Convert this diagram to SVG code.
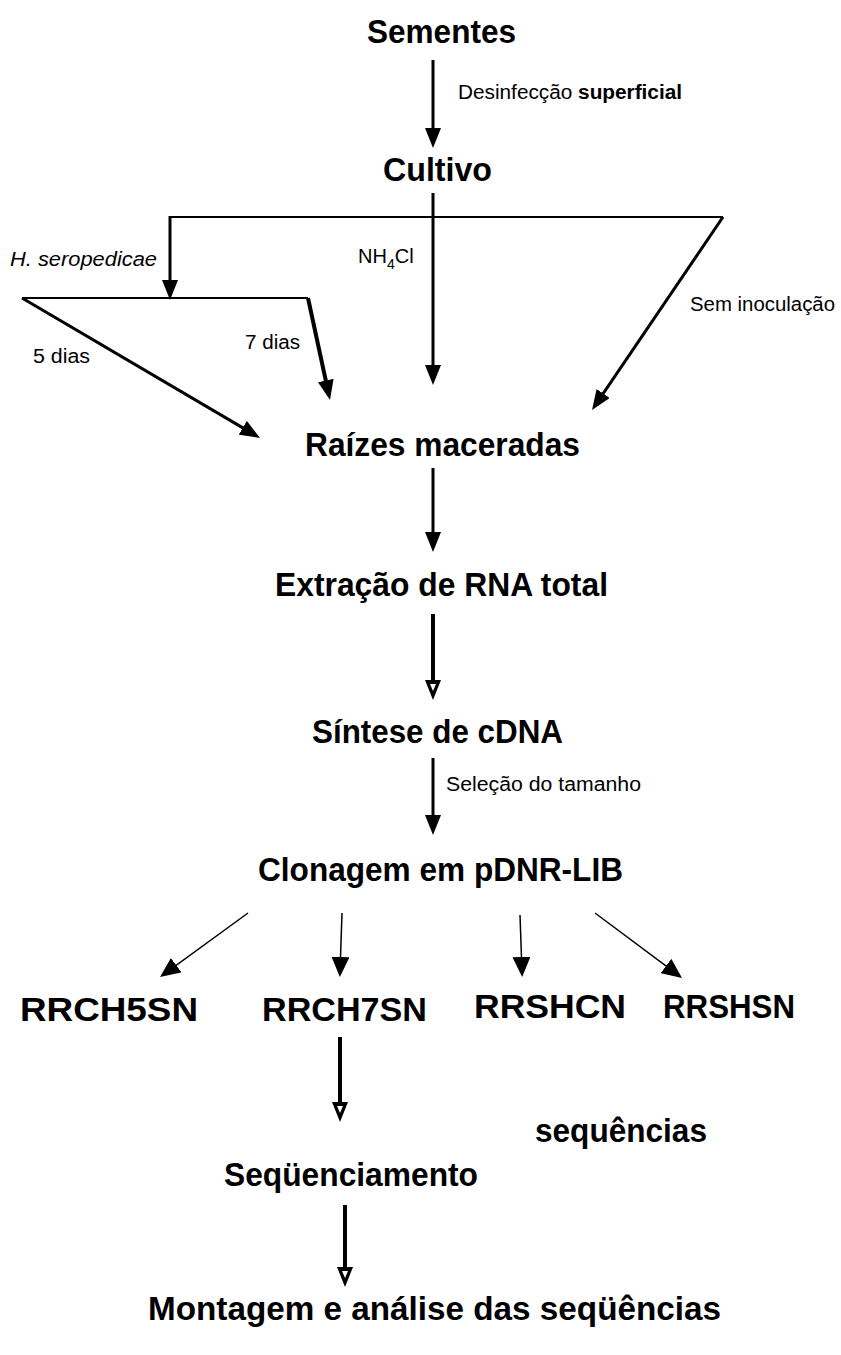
<svg xmlns="http://www.w3.org/2000/svg" width="841" height="1355" viewBox="0 0 841 1355">
<style>
.t{font-family:"Liberation Sans",Arial,sans-serif;font-weight:bold;font-size:33px;fill:#000}
.s{font-family:"Liberation Sans",Arial,sans-serif;font-size:20px;fill:#000}
.ln{stroke:#000;fill:none}
</style>
<defs>
<marker id="ah" markerUnits="userSpaceOnUse" markerWidth="22" markerHeight="16" refX="12" refY="8" orient="auto"><path d="M0,0 L20,8 L0,16 z" fill="#000"/></marker>
<marker id="ahs" markerUnits="userSpaceOnUse" markerWidth="22" markerHeight="18" refX="12" refY="9" orient="auto"><path d="M0,0 L20,9 L0,18 z" fill="#000"/></marker>
<marker id="aho" markerUnits="userSpaceOnUse" markerWidth="22" markerHeight="16" refX="12" refY="8" orient="auto"><path d="M0,0 L20,8 L0,16 z" fill="#000"/><path d="M4,5 L11,8 L4,11 z" fill="#fff"/></marker>
</defs>
<rect width="841" height="1355" fill="#fff"/>
<g id="connectors">
<line class="ln" x1="433" y1="60" x2="433" y2="140" stroke-width="3" marker-end="url(#ah)"/>
<line class="ln" x1="433" y1="193" x2="433" y2="377" stroke-width="3" marker-end="url(#ah)"/>
<line class="ln" x1="170" y1="217" x2="723" y2="217" stroke-width="2"/>
<line class="ln" x1="170" y1="216" x2="170" y2="292" stroke-width="3" marker-end="url(#ah)"/>
<line class="ln" x1="723" y1="217" x2="596.5" y2="403.4" stroke-width="3" marker-end="url(#ah)"/>
<line class="ln" x1="22" y1="298" x2="308" y2="298" stroke-width="2"/>
<line class="ln" x1="22" y1="298" x2="253.1" y2="433.9" stroke-width="3" marker-end="url(#ah)"/>
<line class="ln" x1="308" y1="298" x2="328.3" y2="392.2" stroke-width="4" marker-end="url(#ah)"/>
<line class="ln" x1="433" y1="468" x2="433" y2="544" stroke-width="3" marker-end="url(#ah)"/>
<line class="ln" x1="433" y1="614" x2="433" y2="692" stroke-width="4" marker-end="url(#aho)"/>
<line class="ln" x1="433" y1="758" x2="433" y2="827" stroke-width="3" marker-end="url(#ah)"/>
<line class="ln" x1="248" y1="913" x2="166.5" y2="972.3" stroke-width="1.5" marker-end="url(#ahs)"/>
<line class="ln" x1="342" y1="913" x2="340.1" y2="969" stroke-width="1.5" marker-end="url(#ahs)"/>
<line class="ln" x1="520" y1="915" x2="521.9" y2="969" stroke-width="1.5" marker-end="url(#ahs)"/>
<line class="ln" x1="595" y1="913" x2="675.6" y2="973.2" stroke-width="1.5" marker-end="url(#ahs)"/>
<line class="ln" x1="340" y1="1037" x2="340" y2="1114" stroke-width="4" marker-end="url(#aho)"/>
<line class="ln" x1="345" y1="1205" x2="345" y2="1279" stroke-width="4" marker-end="url(#aho)"/>
</g>
<g id="n-sementes"><text class="t" x="367" y="43" textLength="149" lengthAdjust="spacingAndGlyphs">Sementes</text></g>
<g id="l-desinf"><text class="s" x="458" y="99" textLength="224" lengthAdjust="spacingAndGlyphs">Desinfecção  <tspan font-weight="bold">superficial</tspan></text></g>
<g id="n-cultivo"><text class="t" x="383" y="181" textLength="109" lengthAdjust="spacingAndGlyphs">Cultivo</text></g>
<g id="l-hsero"><text class="s" x="10" y="266" font-style="italic" textLength="147" lengthAdjust="spacingAndGlyphs">H. seropedicae</text></g>
<g id="l-nh4cl"><text class="s" x="358" y="263">NH<tspan font-size="14" dy="6">4</tspan><tspan dy="-6">Cl</tspan></text></g>
<g id="l-sem"><text class="s" x="690" y="311" textLength="145" lengthAdjust="spacingAndGlyphs">Sem inoculação</text></g>
<g id="l-5dias"><text class="s" x="33" y="363" textLength="57" lengthAdjust="spacingAndGlyphs">5 dias</text></g>
<g id="l-7dias"><text class="s" x="245" y="349" textLength="55" lengthAdjust="spacingAndGlyphs">7 dias</text></g>
<g id="n-raizes"><text class="t" x="305" y="456" textLength="275" lengthAdjust="spacingAndGlyphs">Raízes maceradas</text></g>
<g id="n-extracao"><text class="t" x="275" y="596" textLength="333" lengthAdjust="spacingAndGlyphs">Extração de RNA total</text></g>
<g id="n-sintese"><text class="t" x="312" y="743" textLength="251" lengthAdjust="spacingAndGlyphs">Síntese de cDNA</text></g>
<g id="l-selecao"><text class="s" x="446" y="791" textLength="195" lengthAdjust="spacingAndGlyphs">Seleção do tamanho</text></g>
<g id="n-clonagem"><text class="t" x="258" y="881" textLength="365" lengthAdjust="spacingAndGlyphs">Clonagem em pDNR-LIB</text></g>
<g id="n-rrch5sn"><text class="t" x="20" y="1021" textLength="178" lengthAdjust="spacingAndGlyphs">RRCH5SN</text></g>
<g id="n-rrch7sn"><text class="t" x="262" y="1021" textLength="165" lengthAdjust="spacingAndGlyphs">RRCH7SN</text></g>
<g id="n-rrshcn"><text class="t" x="474" y="1018" textLength="152" lengthAdjust="spacingAndGlyphs">RRSHCN</text></g>
<g id="n-rrshsn"><text class="t" x="663" y="1018" textLength="132" lengthAdjust="spacingAndGlyphs">RRSHSN</text></g>
<g id="n-sequencias"><text class="t" x="535" y="1142" textLength="172" lengthAdjust="spacingAndGlyphs">sequências</text></g>
<g id="n-sequenciamento"><text class="t" x="224" y="1186" textLength="254" lengthAdjust="spacingAndGlyphs">Seqüenciamento</text></g>
<g id="n-montagem"><text class="t" x="148" y="1320" textLength="573" lengthAdjust="spacingAndGlyphs">Montagem e análise das  seqüências</text></g>
</svg>
